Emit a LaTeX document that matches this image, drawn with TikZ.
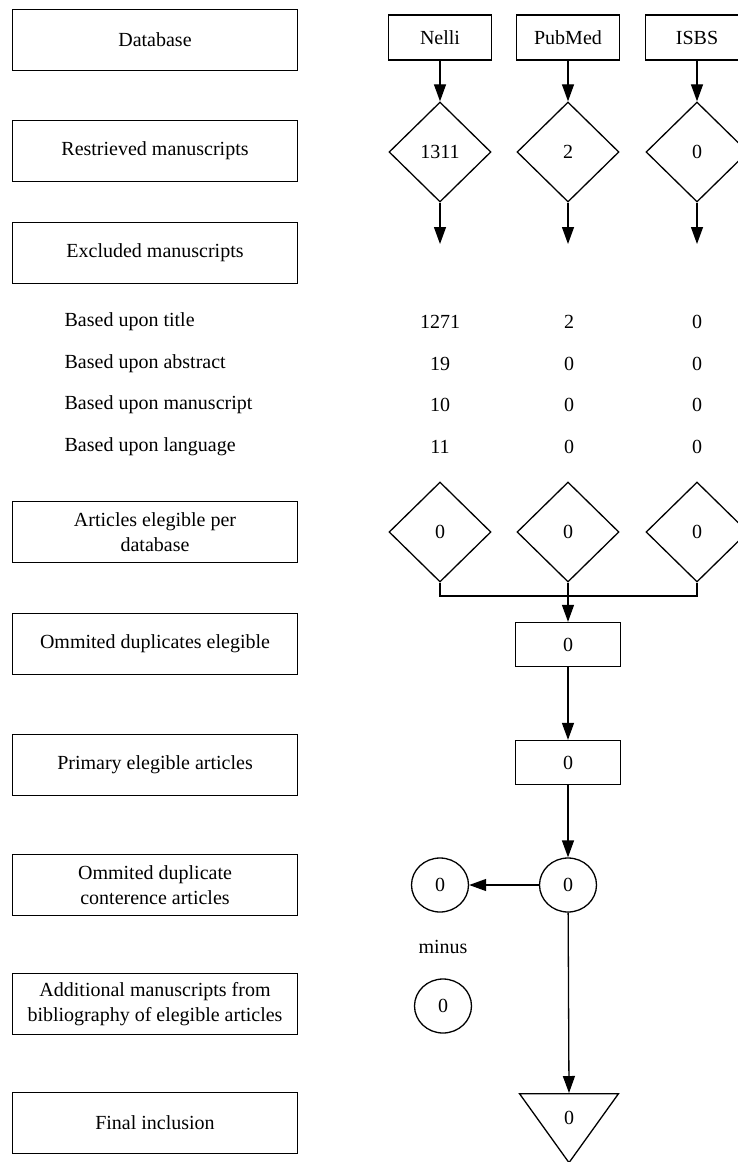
\documentclass[tikz,border=0pt]{standalone}
\usepackage{fontspec}
\setmainfont{Liberation Serif}
\usetikzlibrary{shapes.geometric,arrows.meta}
\begin{document}
\begin{tikzpicture}[x=1pt,y=-1pt,line width=1.3pt,font=\fontsize{20}{24.5}\selectfont,
  stage/.style={draw,minimum width=285pt,minimum height=61pt,align=center,inner sep=0pt},
  dbbox/.style={draw,minimum width=103pt,minimum height=45pt,inner sep=0pt},
  valbox/.style={draw,minimum width=105pt,minimum height=44pt,inner sep=0pt},
  count/.style={draw,diamond,minimum width=102pt,minimum height=100pt,inner sep=0pt},
  round/.style={draw,ellipse,minimum width=57pt,minimum height=54pt,inner sep=0pt},
  arr/.style={-{Triangle[length=17pt,width=12pt]}}]
  \useasboundingbox (0,0) rectangle (738,1162);
  % left column of stages
  \foreach \n/\y/\t in {db/40/Database, ret/151/Restrieved manuscripts,
    exc/253/Excluded manuscripts, eleg/532/{Articles elegible per\\database},
    dup/644/Ommited duplicates elegible, prim/765/Primary elegible articles,
    conf/885/{Ommited duplicate\\conterence articles},
    add/1004/{Additional manuscripts from\\bibliography of elegible articles},
    fin/1123/Final inclusion}
    {\node[stage] (\n) at (155,\y) {\t};}
  \foreach \y/\t in {322/title,364/abstract,405/manuscript,447/language}
    {\node[right,inner sep=0pt] (b\t) at (64,\y) {Based upon \t};}
  % databases
  \foreach \n/\x/\t/\r in {nelli/440/Nelli/1311, pub/568/PubMed/2, isbs/697/ISBS/0} {
    \node[dbbox] (\n) at (\x,37.5) {\t};
    \node[count] (\n-r) at (\x,152) {\r};
    \coordinate (\n-e) at (\x,244);
    \node[count] (\n-a) at (\x,532) {0};
    \draw[arr] (\n) -- (\n-r);
    \draw[arr] (\n-r) -- (\n-e);
  }
  \foreach \y/\a/\b/\c [count=\k] in {322/1271/2/0, 364/19/0/0, 405/10/0/0, 447/11/0/0}
    {\node (n\k) at (440,\y) {\a}; \node (p\k) at (569,\y) {\b}; \node (i\k) at (697,\y) {\c};}
  % merging
  \coordinate (join) at (568,596);
  \node[valbox] (dupv) at (568,644.5) {0};
  \node[valbox] (primv) at (568,762.5) {0};
  \draw (nelli-a.south) |- (join) -| (isbs-a.south);
  \draw[arr] (pub-a.south) -- (dupv);
  \draw[arr] (dupv) -- (primv);
  \node[round] (confv) at (568,885) {0};
  \node[round] (confo) at (440,885) {0};
  \node (minus) at (443,947) {minus};
  \node[round] (addv) at (443,1006) {0};
  \node[draw,isosceles triangle,isosceles triangle stretches,shape border rotate=270,
    minimum width=99pt,minimum height=69pt,inner sep=0pt,anchor=lower side] (finv) at (569,1093) {0};
  \draw[arr] (primv) -- (confv);
  \draw[arr] (confv) -- (confo);
  \draw[arr] (confv) -- (finv.lower side);
\end{tikzpicture}
\end{document}
